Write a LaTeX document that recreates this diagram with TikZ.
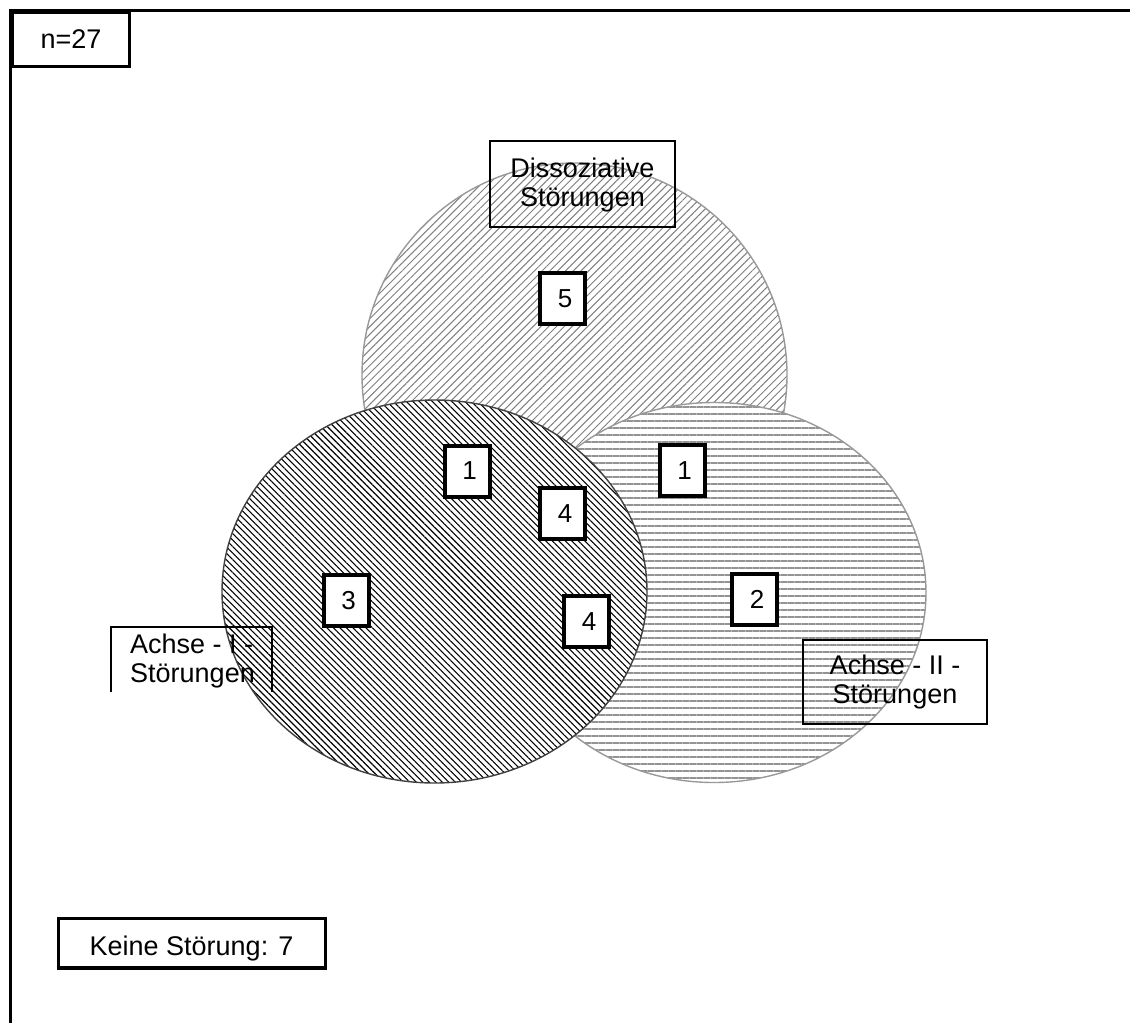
\documentclass[tikz,border=0pt]{standalone}
\usepackage{fontspec}
\setmainfont{Liberation Sans}
\usetikzlibrary{patterns.meta}
\begin{document}
\begin{tikzpicture}[x=1pt,y=-1pt,
  lbl/.style={font=\fontsize{27}{29}\selectfont, inner sep=0pt},
  numbox/.style={draw, line width=4pt, fill=white, minimum width=45pt, minimum height=51pt, inner sep=0pt, font=\fontsize{26}{29}\selectfont},
  ell/.style={line width=1.4pt, preaction={fill=white}}]
\useasboundingbox (0,0) rectangle (1130,1023);
% frame
\draw[line width=3pt] (10,1023) -- (10,10) -- (1130,10);
\node[draw, line width=3pt, minimum width=117pt, minimum height=54pt, inner sep=0pt, font=\fontsize{27}{29}\selectfont] (n) at (71,39.5) {n=27};
% ellipses
\draw[ell, draw=gray!80, pattern={Lines[angle=45,distance=5.5pt,line width=1pt]}, pattern color=gray] (574.5,375) ellipse [x radius=212.5, y radius=212];
\draw[ell, draw=gray!80, pattern={Lines[angle=0,distance=7pt,line width=1.6pt]}, pattern color=gray!85] (714,592.5) ellipse [x radius=212, y radius=190];
\draw[ell, draw=black!75, pattern={Lines[angle=-45,distance=4.6pt,line width=1.1pt]}, pattern color=black] (434.5,591.5) ellipse [x radius=212.5, y radius=191.5];
% labels
\node[draw, line width=1.5pt, minimum width=185pt, minimum height=86pt, inner sep=0pt] (dbox) at (582.5,184) {};
\node[lbl, align=center] (dtxt) at (582.5,185) {Dissoziative\\Störungen};
\draw[line width=1.5pt] (111,692) -- (111,627) -- (272,627) -- (272,692);
\node[lbl, align=left, anchor=west] (atxt) at (130,661) {Achse - I -\\Störungen};
\node[draw, line width=1.5pt, minimum width=184pt, minimum height=84pt, inner sep=0pt] (bbox) at (895,682) {};
\node[lbl, align=center] (btxt) at (895,682) {Achse - II -\\Störungen};
% numbers
\tikzset{numbox/.append style={text depth=0pt, execute at begin node={\hspace*{5pt}}}}
\node[numbox] (n5) at (562.5,298.5) {5};
\node[numbox] (n1a) at (467,471) {1};
\node[numbox] (n4a) at (562.5,513.5) {4};
\node[numbox] (n4b) at (586.5,621.5) {4};
\node[numbox] (n3) at (346,600) {3};
\node[numbox] (n1b) at (682,470.5) {1};
\node[numbox] (n2) at (754.5,599.5) {2};
% none
\node[draw, line width=3pt, minimum width=267pt, minimum height=49pt, inner sep=0pt] (keine) at (191.5,942.5) {};
\begin{scope}
\clip (58,918) rectangle (325,965);
\node[font=\fontsize{27}{29}\selectfont, inner sep=0pt, anchor=base] (ktxt) at (191.5,955) {Keine Störung: 7};
\end{scope}
\draw[line width=3pt] (keine.south west) -- (keine.south east);
\end{tikzpicture}
\end{document}
